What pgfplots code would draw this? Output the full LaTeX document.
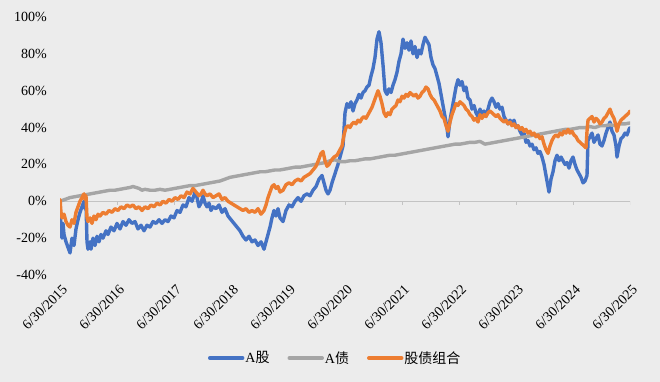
\documentclass[border=0pt]{standalone}
\usepackage{pgfplots}
\pgfplotsset{compat=1.18}
\usepackage{pgfplotstable}
\usepackage{fontspec}
\setmainfont{Liberation Serif}
\newfontfamily\cjk{Noto Sans CJK SC}
\definecolor{bg}{RGB}{236,236,236}
\definecolor{cblue}{RGB}{68,114,196}
\definecolor{cgray}{RGB}{165,165,165}
\definecolor{corange}{RGB}{237,125,49}
\definecolor{axisgray}{RGB}{195,195,195}

% x: time axis, 57 units per year, 60 = 6/30/2015, 630 = 6/30/2025
\pgfplotstableread{
x y
60 -2
61 -15
62 -20
63 -12
64 -18
66 -22
68 -25
70 -28
72 -20
74 -24
76 -15
78 -10
80 -6
82 -3
84 0
85 -4
86 -1
87 -22
88 -26
90 -22
91 -26
93 -20
95 -24
97 -19
99 -22
101 -18
103 -20
106 -16
108 -18
111 -14
114 -16
117 -12
120 -15
123 -11
126 -13
129 -10
132 -12
135 -11
138 -15
141 -13
144 -16
147 -13
150 -14
153 -11
156 -12
159 -10
162 -12
165 -10
168 -11
171 -8
174 -9
177 -5
180 -6
183 -2
186 -3
189 2
192 0
195 5
197 2
199 -3
201 -1
203 3
205 -1
207 -3
209 -1
211 -5
213 -3
216 -4
219 -2
222 -6
225 -4
228 -8
231 -10
234 -12
237 -14
240 -16
243 -19
246 -21
249 -19
252 -22
255 -21
258 -24
261 -22
264 -26
266 -22
268 -18
270 -14
272 -9
274 -5
276 -8
278 -4
280 -9
283 -11
286 -5
289 -2
292 -3
295 0
298 2
301 0
304 3
307 4
310 3
313 6
316 8
319 12
322 14
324 10
326 6
328 4
330 6
332 10
335 15
338 20
341 26
343 30
345 48
347 53
349 51
351 54
353 49
355 53
357 55
359 58
361 56
363 59
365 60
367 62
369 63
371 68
373 72
375 78
377 88
379 92
381 86
383 74
385 60
387 58
389 61
391 59
393 63
395 66
397 70
399 76
401 80
403 88
405 83
407 86
409 82
411 87
413 80
415 84
417 78
419 82
421 80
423 85
425 89
427 87
429 85
431 78
433 74
435 72
437 68
439 64
441 58
443 52
445 46
447 40
448 35
450 44
452 50
454 56
456 62
458 66
460 63
462 65
464 60
466 62
468 56
470 55
472 50
474 52
476 48
478 46
480 50
482 47
484 49
486 46
488 50
490 54
492 56
494 54
496 51
498 53
500 50
502 51
504 46
506 44
508 42
510 44
512 42
514 44
516 40
518 41
520 38
522 36
524 37
526 32
528 33
530 30
532 31
534 28
536 29
538 26
540 27
542 24
544 20
546 14
548 8
549 5
551 12
553 16
555 22
557 25
559 22
561 24
563 22
565 20
567 21
569 18
571 22
573 24
575 20
577 17
579 15
581 13
583 10
585 11
587 14
588 33
590 35
592 37
594 32
596 34
598 36
600 31
602 30
604 33
606 37
608 40
610 43
612 38
614 36
616 30
617 24
619 30
621 34
623 35
625 37
627 36
629 39
630 40
}\stockdata

\pgfplotstableread{
x y
60 0
65 1
70 2
75 2.5
80 3
85 3.5
90 4
95 4.5
100 5
105 5.5
110 6
115 6
120 6.5
125 7
130 7.5
133 8
136 7.5
139 7
142 6
145 6.5
150 6
155 6
160 6.5
165 6
170 6.5
175 7
180 7.5
185 8
190 8.5
195 8.5
200 9
205 9.5
210 10
215 10.5
220 11
225 12
230 13
235 13.5
240 14
245 14.5
250 15
255 15.5
260 16
265 16
270 16.5
275 17
280 17
285 17.5
290 18
295 18.5
300 18.5
305 19
310 19.5
315 20
320 20.5
325 21
330 22
335 22.5
340 21.5
345 21.5
350 22
355 22
360 22.5
365 23
370 23
375 23.5
380 24
385 24.5
390 25
395 25
400 25.5
405 26
410 26.5
415 27
420 27.5
425 28
430 28.5
435 29
440 29.5
445 30
450 30.5
455 31
460 31
465 31.5
470 32
475 32
480 32.5
485 31
490 31.5
495 32
500 32.5
505 33
510 33.5
515 34
520 34.5
525 35
530 35.5
535 36
540 36.5
545 37
550 37.5
555 38
560 38.5
565 39
570 39
575 39.5
580 40
585 40
590 40.5
595 40
600 41
605 41
610 41.5
615 41
620 42
625 42
630 42.5
}\bonddata

\pgfplotstableread{
x y
60 1
61 -6
62 -9
64 -7
66 -11
68 -13
70 -14
72 -10
74 -12
76 -6
78 -3
80 0
82 2
84 4
85 1
86 3
87 -9
88 -11
90 -9
92 -12
94 -8
96 -10
98 -7
100 -8
103 -6
106 -7
109 -5
112 -6
115 -4
118 -5
121 -3
124 -4
127 -2
130 -3
133 -2
136 -4
139 -3
142 -5
145 -3
148 -4
151 -2
154 -3
157 -1
160 -2
163 0
166 -1
169 1
172 0
175 2
178 1
181 3
184 2
187 5
190 4
193 7
196 5
199 3
201 4
203 6
205 4
207 3
210 4
213 2
216 3
219 4
222 1
225 2
228 0
231 -1
234 -2
237 -3
240 -4
243 -5
246 -4
249 -6
252 -5
255 -6
258 -4
261 -7
264 -5
266 -2
268 2
270 5
272 8
274 9
276 7
278 8
280 5
283 6
286 9
289 10
292 9
295 11
298 12
301 11
304 13
307 14
310 15
313 17
316 19
319 23
321 26
323 27
325 22
327 19
329 20
331 22
334 24
337 25
340 28
342 30
344 36
346 40
348 41
350 40
352 42
354 43
356 42
358 44
360 43
362 45
364 46
366 45
368 47
370 49
372 51
374 54
376 57
378 60
380 57
382 53
384 48
386 46
388 48
390 47
392 50
394 51
396 52
398 55
400 54
402 57
404 56
406 58
408 57
410 59
412 58
414 57
416 58
418 56
420 57
422 59
424 60
426 62
428 61
430 58
432 56
434 55
436 53
438 51
440 49
442 46
444 45
446 41
448 38
450 43
452 47
454 50
456 53
458 52
460 54
462 53
464 52
466 50
468 49
470 47
472 46
474 44
476 45
478 43
480 47
482 45
484 47
486 46
488 48
490 49
492 48
494 47
496 46
498 47
500 45
502 44
504 43
506 44
508 42
510 43
512 41
514 42
516 40
518 41
520 39
522 40
524 38
526 39
528 37
530 38
532 36
534 37
536 35
538 36
540 34
542 35
544 31
546 28
548 26
550 30
552 33
554 35
556 36
558 35
560 37
562 36
564 38
566 37
568 39
570 37
572 38
574 36
576 35
578 33
580 32
582 31
584 30
586 29
587 38
588 44
590 45
592 46
594 43
596 45
598 44
600 42
602 43
604 45
606 46
608 48
610 50
612 47
614 45
616 41
617 38
619 42
621 44
623 45
625 46
627 47
629 48
630 49
}\mixdata

\begin{document}
\begin{tikzpicture}
\fill[bg] (0,0) rectangle (660pt,382pt);
\useasboundingbox (0,0) rectangle (660pt,382pt);
\begin{axis}[
  at={(60pt,107pt)}, anchor=south west,
  scale only axis, width=570pt, height=258pt,
  xmin=60, xmax=630, ymin=-40, ymax=100,
  axis line style={draw=none},
  tick style={draw=none},
  font=\fontsize{14}{16}\selectfont,
  xtick={60,117,174,231,288,345,402,459,516,573,630},
  xticklabels={6/30/2015,6/30/2016,6/30/2017,6/30/2018,6/30/2019,6/30/2020,6/30/2021,6/30/2022,6/30/2023,6/30/2024,6/30/2025},
  xticklabel style={xshift=5pt, yshift=-12pt, rotate=45, anchor=east, inner sep=0pt},
  ytick={-40,-20,0,20,40,60,80,100},
  yticklabels={-40\%,-20\%,0\%,20\%,40\%,60\%,80\%,100\%},
  yticklabel style={inner sep=0pt, xshift=-13pt, anchor=east},
  legend style={at={(0.482,-0.322)}, anchor=center, draw=none, fill=none,
    legend columns=3, font=\fontsize{14}{16}\selectfont,
    /tikz/every even column/.append style={column sep=17pt},
    nodes={inner sep=1pt}},
  legend image code/.code={\draw[#1, line width=3.4pt] (0pt,0pt) -- (33pt,0pt);},
  every axis plot/.append style={line width=3.4pt, line join=round, line cap=round},
]
\draw[axisgray, line width=1pt] (axis cs:60,0) -- (axis cs:630,0);
\pgfplotsinvokeforeach{60,117,174,231,288,345,402,459,516,573,630}{
  \draw[axisgray, line width=0.8pt] (axis cs:#1,0) -- ++(0pt,-4pt);
}
\addplot[cblue] table[x=x,y=y] {\stockdata};
\addlegendentry{A{\cjk 股}}
\addplot[cgray] table[x=x,y=y] {\bonddata};
\addlegendentry{A{\cjk 债}}
\addplot[corange] table[x=x,y=y] {\mixdata};
\addlegendentry{{\cjk 股债组合}}
\end{axis}
\end{tikzpicture}
\end{document}
